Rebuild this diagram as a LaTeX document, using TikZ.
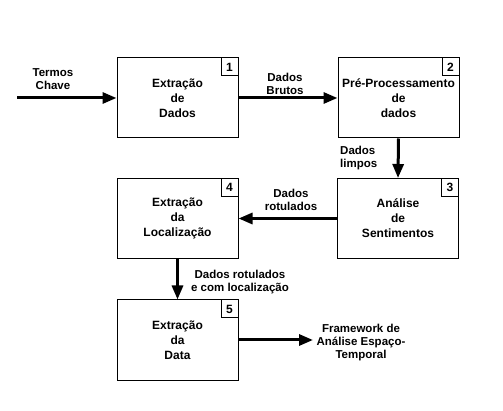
\documentclass[tikz,border=0pt]{standalone}
\usepackage{fontspec}
\setmainfont{Liberation Sans}
\usetikzlibrary{arrows.meta}
\begin{document}
\begin{tikzpicture}[x=1pt,y=-1pt,
  procbox/.style={draw,line width=1pt,minimum width=121pt,minimum height=80pt,inner sep=0pt,align=center,font=\bfseries\fontsize{12}{15}\selectfont},
  numbox/.style={draw,line width=1pt,minimum width=17pt,minimum height=18pt,inner sep=0pt,anchor=north east,font=\bfseries\fontsize{12}{14}\selectfont},
  lbl/.style={align=center,inner sep=0pt,font=\bfseries\fontsize{11.5}{13}\selectfont},
  flow/.style={line width=3pt,-{Triangle[length=14pt,width=11pt]}}]
\useasboundingbox (0,0) rectangle (503,411);
\node[procbox] (b1) at (177.5,98) {Extração\\de\\Dados};
\node[procbox] (b2) at (398.5,98) {Pré-Processamento\\de\\dados};
\node[procbox] (b3) at (398,218.5) {Análise\\de\\Sentimentos};
\node[procbox] (b4) at (177.5,218.5) {Extração\\da\\Localização};
\node[procbox] (b5) at (177.5,340) {Extração\\da\\Data};
\node[numbox] (n1) at (b1.north east) {1};
\node[numbox] (n2) at (b2.north east) {2};
\node[numbox] (n3) at (b3.north east) {3};
\node[numbox] (n4) at (b4.north east) {4};
\node[numbox] (n5) at (b5.north east) {5};
\coordinate (in) at (17,98);
\coordinate (out) at (313,340);
\draw[flow] (in) -- (b1.west);
\draw[flow] (b1.east) -- (b2.west);
\draw[flow] (b2.south) -- (b3.north);
\draw[flow] (b3.west) -- (b4.east);
\draw[flow] (b4.south) -- (b5.north);
\draw[flow] (b5.east) -- (out);
\node[lbl] (l1) at (53,79) {Termos\\Chave};
\node[lbl] (l2) at (285,84) {Dados\\Brutos};
\node[lbl,align=left,anchor=west] (l3) at (340,158) {Dados\\limpos};
\node[lbl] (l4) at (291,200) {Dados\\rotulados};
\node[lbl] (l5) at (240,282) {Dados rotulados\\e com localização};
\node[lbl] (l6) at (361,343) {Framework de\\Análise Espaço-\\Temporal};
\end{tikzpicture}
\end{document}
